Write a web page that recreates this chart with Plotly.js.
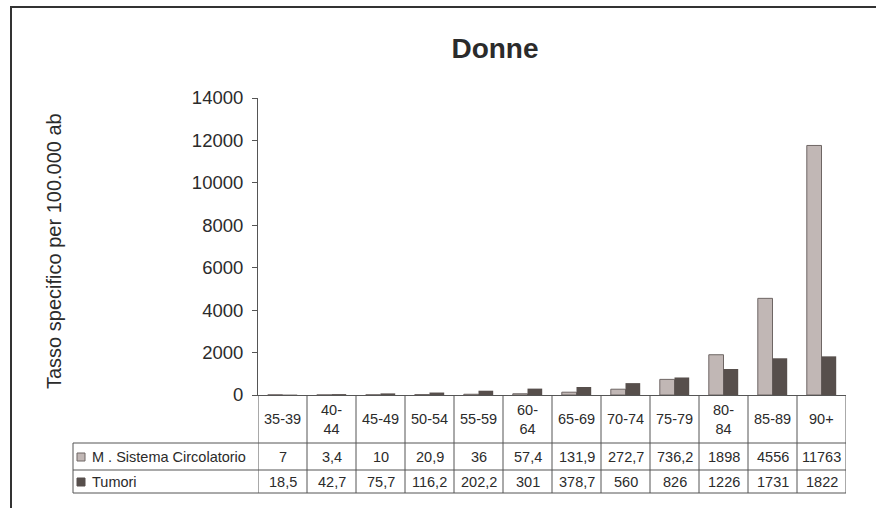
<!DOCTYPE html>
<html><head><meta charset="utf-8">
<script src="https://cdn.plot.ly/plotly-3.0.1.min.js"></script>
<style>html,body{margin:0;padding:0;background:#fff}#c{width:876px;height:508px}</style>
</head><body><div id="c"></div>
<script>
const categories = ["35-39","40-44","45-49","50-54","55-59","60-64","65-69","70-74","75-79","80-84","85-89","90+"];
const headerLabels = ["35-39","40-<br>44","45-49","50-54","55-59","60-<br>64","65-69","70-74","75-79","80-<br>84","85-89","90+"];
const seriesNames = ["M . Sistema Circolatorio","Tumori"];
const circolatorio = [7,3.4,10,20.9,36,57.4,131.9,272.7,736.2,1898,4556,11763];
const tumori = [18.5,42.7,75.7,116.2,202.2,301,378.7,560,826,1226,1731,1822];
const yTicks = [0,2000,4000,6000,8000,10000,12000,14000];

const lightCol = "#c1b7b5", darkCol = "#574f4c", lineCol = "#555";
const xIdx = categories.map((_, i) => i);
const fmt = v => String(v).replace(".", ",");

const traces = [
  {type:"bar", x:xIdx, y:circolatorio, name:seriesNames[0], marker:{color:lightCol, line:{color:"#6e6664", width:1}}},
  {type:"bar", x:xIdx, y:tumori, name:seriesNames[1], marker:{color:darkCol, line:{color:darkCol, width:0}}}
];

const H = 297, W = 588;
const yHead = -48/H, yRow1 = -75/H, yBot = -98/H;
const xLeg = (73-258)/W;
const tf = {family:"Liberation Sans, Arial, sans-serif", size:14.5, color:"#2b2b2b"};

const shapes = [];
const annotations = [];
for (let i = 0; i <= categories.length; i++) {
  shapes.push({type:"line", xref:"x", yref:"paper", x0:i-0.5, x1:i-0.5, y0:0, y1:yBot, line:{color:lineCol, width:1}});
}
[yHead, yRow1, yBot].forEach(y => shapes.push({type:"line", xref:"paper", yref:"paper", x0:xLeg, x1:1, y0:y, y1:y, line:{color:lineCol, width:1}}));
shapes.push({type:"line", xref:"paper", yref:"paper", x0:xLeg, x1:xLeg, y0:yHead, y1:yBot, line:{color:lineCol, width:1}});
const kx0 = (77-258)/W, kx1 = (85-258)/W;
shapes.push({type:"rect", xref:"paper", yref:"paper", x0:kx0, x1:kx1, y0:-(453-395)/H, y1:-(461-395)/H, fillcolor:lightCol, line:{color:"#6e6664", width:1}});
shapes.push({type:"rect", xref:"paper", yref:"paper", x0:kx0, x1:kx1, y0:-(478-395)/H, y1:-(486-395)/H, fillcolor:darkCol, line:{color:darkCol, width:1}});
shapes.push({type:"rect", xref:"paper", yref:"paper", x0:(11-258)/W, x1:1.2, y0:-0.6, y1:(395-7)/H, line:{color:"#333", width:2}, fillcolor:"rgba(0,0,0,0)", layer:"below"});

categories.forEach((c, i) => {
  annotations.push({xref:"x", yref:"paper", x:i, y:-24/H, text:headerLabels[i], showarrow:false, font:tf, yanchor:"middle", xanchor:"center"});
  annotations.push({xref:"x", yref:"paper", x:i, y:-62/H, text:fmt(circolatorio[i]), showarrow:false, font:tf, yanchor:"middle"});
  annotations.push({xref:"x", yref:"paper", x:i, y:-87/H, text:fmt(tumori[i]), showarrow:false, font:tf, yanchor:"middle"});
});
annotations.push({xref:"paper", yref:"paper", x:(90-258)/W, y:-62/H, text:seriesNames[0], showarrow:false, font:tf, xanchor:"left", yanchor:"middle"});
annotations.push({xref:"paper", yref:"paper", x:(90-258)/W, y:-87/H, text:seriesNames[1], showarrow:false, font:tf, xanchor:"left", yanchor:"middle"});
annotations.push({xref:"paper", yref:"paper", x:(54-258)/W, y:(395-251)/H, text:"Tasso specifico per 100.000 ab", textangle:-90, showarrow:false,
  font:{family:"Liberation Sans, Arial, sans-serif", size:20, color:"#2b2b2b"}, xanchor:"center", yanchor:"middle"});

const layout = {
  width:876, height:508,
  margin:{l:258, r:30, t:98, b:113},
  paper_bgcolor:"#fff", plot_bgcolor:"#fff",
  title:{text:"<b>Donne</b>", x:495/876, xanchor:"center", y:1-48/508, yanchor:"middle", font:{family:"Liberation Sans, Arial, sans-serif", size:28, color:"#2b2b2b"}},
  showlegend:false,
  barmode:"group", bargap:0.4, bargroupgap:0,
  xaxis:{range:[-0.5, 11.5], showticklabels:false, ticks:"", showgrid:false, zeroline:false, showline:true, linecolor:lineCol, linewidth:1, fixedrange:true},
  yaxis:{range:[0,14000], tickvals:yTicks, ticktext:yTicks.map(String), ticks:"outside", ticklen:5, tickcolor:"#555", tickwidth:1,
    ticklabelstandoff:5,
    showline:true, linecolor:"#555", linewidth:1, showgrid:false, zeroline:false,
    tickfont:{family:"Liberation Sans, Arial, sans-serif", size:18.5, color:"#2b2b2b"}},
  shapes, annotations,
  font:{family:"Liberation Sans, Arial, sans-serif"}
};
Plotly.newPlot("c", traces, layout, {staticPlot:true, displayModeBar:false});
</script></body></html>
